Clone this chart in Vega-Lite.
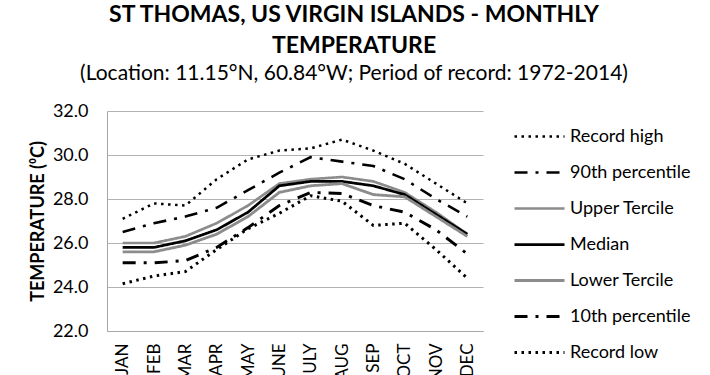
{
  "$schema": "https://vega.github.io/schema/vega-lite/v6.json",
  "width": 376,
  "height": 220,
  "autosize": {"type": "none"},
  "padding": {"left": 107, "top": 111, "right": 227, "bottom": 44},
  "background": "white",
  "config": {
    "font": "Lato",
    "view": {"stroke": null}
  },
  "title": {
    "text": ["ST THOMAS, US VIRGIN ISLANDS - MONTHLY", "TEMPERATURE"],
    "subtitle": "(Location: 11.15°N, 60.84°W; Period of record: 1972-2014)",
    "anchor": "middle",
    "dx": 59,
    "offset": 18,
    "font": "Lato",
    "fontSize": 23,
    "fontWeight": "bold",
    "lineHeight": 31,
    "color": "black",
    "subtitleFont": "Lato",
    "subtitleFontSize": 21,
    "subtitleColor": "black",
    "subtitlePadding": 5
  },
  "data": {
    "values": [
      {"month": "JAN", "series": "Record high", "value": 27.1},
      {"month": "FEB", "series": "Record high", "value": 27.8},
      {"month": "MAR", "series": "Record high", "value": 27.7},
      {"month": "APR", "series": "Record high", "value": 28.9},
      {"month": "MAY", "series": "Record high", "value": 29.8},
      {"month": "JUNE", "series": "Record high", "value": 30.2},
      {"month": "JULY", "series": "Record high", "value": 30.3},
      {"month": "AUG", "series": "Record high", "value": 30.7},
      {"month": "SEP", "series": "Record high", "value": 30.2},
      {"month": "OCT", "series": "Record high", "value": 29.6},
      {"month": "NOV", "series": "Record high", "value": 28.7},
      {"month": "DEC", "series": "Record high", "value": 27.8},

      {"month": "JAN", "series": "90th percentile", "value": 26.5},
      {"month": "FEB", "series": "90th percentile", "value": 26.9},
      {"month": "MAR", "series": "90th percentile", "value": 27.2},
      {"month": "APR", "series": "90th percentile", "value": 27.6},
      {"month": "MAY", "series": "90th percentile", "value": 28.4},
      {"month": "JUNE", "series": "90th percentile", "value": 29.2},
      {"month": "JULY", "series": "90th percentile", "value": 29.9},
      {"month": "AUG", "series": "90th percentile", "value": 29.7},
      {"month": "SEP", "series": "90th percentile", "value": 29.5},
      {"month": "OCT", "series": "90th percentile", "value": 28.9},
      {"month": "NOV", "series": "90th percentile", "value": 28.0},
      {"month": "DEC", "series": "90th percentile", "value": 27.2},

      {"month": "JAN", "series": "Upper Tercile", "value": 26.0},
      {"month": "FEB", "series": "Upper Tercile", "value": 26.0},
      {"month": "MAR", "series": "Upper Tercile", "value": 26.3},
      {"month": "APR", "series": "Upper Tercile", "value": 26.9},
      {"month": "MAY", "series": "Upper Tercile", "value": 27.7},
      {"month": "JUNE", "series": "Upper Tercile", "value": 28.7},
      {"month": "JULY", "series": "Upper Tercile", "value": 28.9},
      {"month": "AUG", "series": "Upper Tercile", "value": 29.0},
      {"month": "SEP", "series": "Upper Tercile", "value": 28.8},
      {"month": "OCT", "series": "Upper Tercile", "value": 28.3},
      {"month": "NOV", "series": "Upper Tercile", "value": 27.4},
      {"month": "DEC", "series": "Upper Tercile", "value": 26.4},

      {"month": "JAN", "series": "Median", "value": 25.8},
      {"month": "FEB", "series": "Median", "value": 25.8},
      {"month": "MAR", "series": "Median", "value": 26.1},
      {"month": "APR", "series": "Median", "value": 26.6},
      {"month": "MAY", "series": "Median", "value": 27.4},
      {"month": "JUNE", "series": "Median", "value": 28.6},
      {"month": "JULY", "series": "Median", "value": 28.8},
      {"month": "AUG", "series": "Median", "value": 28.8},
      {"month": "SEP", "series": "Median", "value": 28.6},
      {"month": "OCT", "series": "Median", "value": 28.2},
      {"month": "NOV", "series": "Median", "value": 27.3},
      {"month": "DEC", "series": "Median", "value": 26.4},

      {"month": "JAN", "series": "Lower Tercile", "value": 25.6},
      {"month": "FEB", "series": "Lower Tercile", "value": 25.6},
      {"month": "MAR", "series": "Lower Tercile", "value": 25.9},
      {"month": "APR", "series": "Lower Tercile", "value": 26.4},
      {"month": "MAY", "series": "Lower Tercile", "value": 27.2},
      {"month": "JUNE", "series": "Lower Tercile", "value": 28.3},
      {"month": "JULY", "series": "Lower Tercile", "value": 28.6},
      {"month": "AUG", "series": "Lower Tercile", "value": 28.7},
      {"month": "SEP", "series": "Lower Tercile", "value": 28.2},
      {"month": "OCT", "series": "Lower Tercile", "value": 28.1},
      {"month": "NOV", "series": "Lower Tercile", "value": 27.2},
      {"month": "DEC", "series": "Lower Tercile", "value": 26.3},

      {"month": "JAN", "series": "10th percentile", "value": 25.1},
      {"month": "FEB", "series": "10th percentile", "value": 25.1},
      {"month": "MAR", "series": "10th percentile", "value": 25.2},
      {"month": "APR", "series": "10th percentile", "value": 25.8},
      {"month": "MAY", "series": "10th percentile", "value": 26.7},
      {"month": "JUNE", "series": "10th percentile", "value": 27.7},
      {"month": "JULY", "series": "10th percentile", "value": 28.3},
      {"month": "AUG", "series": "10th percentile", "value": 28.25},
      {"month": "SEP", "series": "10th percentile", "value": 27.7},
      {"month": "OCT", "series": "10th percentile", "value": 27.4},
      {"month": "NOV", "series": "10th percentile", "value": 26.6},
      {"month": "DEC", "series": "10th percentile", "value": 25.5},

      {"month": "JAN", "series": "Record low", "value": 24.15},
      {"month": "FEB", "series": "Record low", "value": 24.5},
      {"month": "MAR", "series": "Record low", "value": 24.7},
      {"month": "APR", "series": "Record low", "value": 25.7},
      {"month": "MAY", "series": "Record low", "value": 26.65},
      {"month": "JUNE", "series": "Record low", "value": 27.35},
      {"month": "JULY", "series": "Record low", "value": 28.15},
      {"month": "AUG", "series": "Record low", "value": 27.9},
      {"month": "SEP", "series": "Record low", "value": 26.8},
      {"month": "OCT", "series": "Record low", "value": 26.9},
      {"month": "NOV", "series": "Record low", "value": 25.7},
      {"month": "DEC", "series": "Record low", "value": 24.4}
    ]
  },
  "mark": {"type": "line", "clip": false},
  "encoding": {
    "x": {
      "field": "month",
      "type": "ordinal",
      "sort": null,
      "scale": {"type": "point", "padding": 0.5},
      "axis": {
        "title": null,
        "labelAngle": -90,
        "labelAlign": "right",
        "labelBaseline": "middle",
        "labelFontSize": 17,
        "labelColor": "black",
        "labelPadding": 12,
        "ticks": false,
        "domainColor": "#a6a6a6",
        "domainWidth": 1,
        "grid": false
      }
    },
    "y": {
      "field": "value",
      "type": "quantitative",
      "scale": {"domain": [22, 32], "nice": false, "zero": false},
      "axis": {
        "title": "TEMPERATURE (⁰C)",
        "titleFontSize": 18,
        "titleFontWeight": "bold",
        "titleColor": "black",
        "titlePadding": 5,
        "values": [22, 24, 26, 28, 30, 32],
        "format": ".1f",
        "labelFontSize": 18,
        "labelColor": "black",
        "labelPadding": 19,
        "ticks": false,
        "domainColor": "#a6a6a6",
        "gridColor": "#b3b3b3",
        "gridWidth": 1
      }
    },
    "color": {
      "field": "series",
      "type": "nominal",
      "scale": {
        "domain": ["Record high", "90th percentile", "Upper Tercile", "Median", "Lower Tercile", "10th percentile", "Record low"],
        "range": ["black", "black", "#8c8c8c", "black", "#8c8c8c", "black", "black"]
      },
      "legend": {
        "title": null,
        "orient": "none",
        "legendX": 406,
        "legendY": -1,
        "symbolType": "stroke",
        "symbolSize": 2500,
        "labelFontSize": 18,
        "labelColor": "black",
        "labelOffset": 4,
        "rowPadding": -17
      }
    },
    "strokeDash": {
      "field": "series",
      "type": "nominal",
      "scale": {
        "domain": ["Record high", "90th percentile", "Upper Tercile", "Median", "Lower Tercile", "10th percentile", "Record low"],
        "range": [[2.5, 4.5], [13, 8, 3, 8], [1, 0], [1, 0], [1, 0], [13, 8, 3, 8], [2.5, 4.5]]
      },
      "legend": {
        "title": null,
        "orient": "none",
        "legendX": 406,
        "legendY": -1,
        "symbolType": "stroke",
        "symbolSize": 2500,
        "labelFontSize": 18,
        "labelColor": "black",
        "labelOffset": 4,
        "rowPadding": -17
      }
    },
    "strokeWidth": {
      "field": "series",
      "type": "nominal",
      "scale": {
        "domain": ["Record high", "90th percentile", "Upper Tercile", "Median", "Lower Tercile", "10th percentile", "Record low"],
        "range": [2.5, 3, 3, 3, 3, 3, 2.5]
      },
      "legend": {
        "title": null,
        "orient": "none",
        "legendX": 406,
        "legendY": -1,
        "symbolType": "stroke",
        "symbolSize": 2500,
        "labelFontSize": 18,
        "labelColor": "black",
        "labelOffset": 4,
        "rowPadding": -17
      }
    }
  }
}
